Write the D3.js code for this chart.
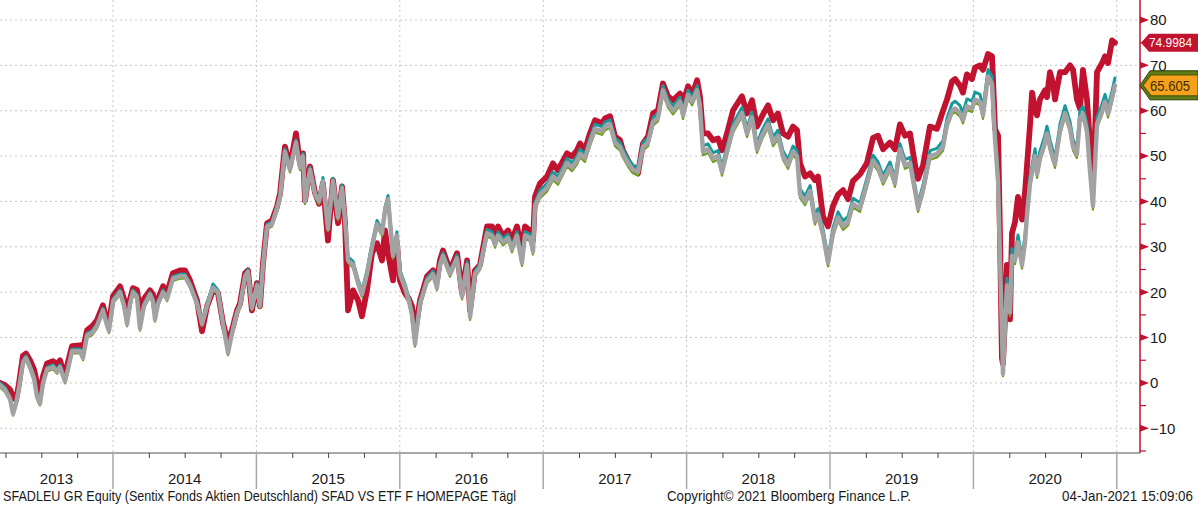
<!DOCTYPE html>
<html><head><meta charset="utf-8">
<script src="https://cdn.jsdelivr.net/npm/d3@7"></script>
<style>body{margin:0;background:#fff;}svg{display:block;}</style>
</head><body>
<svg id="c" width="1198" height="505"></svg>
<script>
// time in decimal years
const dates = [
2013.212,2013.247,2013.282,2013.303,2013.324,2013.345,2013.372,2013.393,2013.421,2013.449,2013.470,2013.491,2013.512,2013.540,2013.582,2013.610,2013.630,2013.665,2013.686,2013.714,2013.770,2013.791,2013.819,2013.854,2013.888,2013.930,2013.951,2013.972,
2014.000,2014.049,2014.077,2014.098,2014.119,2014.139,2014.167,2014.188,2014.216,2014.258,2014.279,2014.293,2014.314,2014.349,2014.377,2014.418,2014.467,2014.502,2014.537,2014.586,2014.621,2014.656,2014.697,2014.732,2014.767,2014.802,2014.837,2014.865,2014.886,2014.921,2014.941,2014.969,
2015.004,2015.025,2015.046,2015.074,2015.109,2015.144,2015.165,2015.199,2015.234,2015.276,2015.304,2015.325,2015.339,2015.374,2015.409,2015.437,2015.464,2015.499,2015.534,2015.569,2015.597,2015.618,2015.639,2015.674,2015.709,2015.736,2015.771,2015.806,2015.841,2015.876,2015.897,2015.918,2015.953,2015.980,
2016.001,2016.036,2016.064,2016.085,2016.106,2016.141,2016.190,2016.232,2016.259,2016.280,2016.301,2016.350,2016.399,2016.434,2016.469,2016.490,2016.524,2016.559,2016.608,2016.643,2016.664,2016.685,2016.720,2016.755,2016.782,2016.817,2016.852,2016.873,2016.908,2016.929,2016.943,2016.978,
2017.027,2017.068,2017.103,2017.166,2017.201,2017.236,2017.257,2017.291,2017.326,2017.361,2017.410,2017.431,2017.466,2017.501,2017.536,2017.556,2017.591,2017.626,2017.661,2017.696,2017.731,2017.766,2017.801,2017.835,2017.870,2017.905,2017.954,2017.975,
2018.010,2018.038,2018.073,2018.093,2018.114,2018.149,2018.184,2018.219,2018.247,2018.282,2018.324,2018.386,2018.421,2018.456,2018.491,2018.526,2018.568,2018.603,2018.637,2018.672,2018.707,2018.742,2018.770,2018.791,2018.826,2018.861,2018.895,2018.916,2018.951,2018.986,
2019.021,2019.056,2019.091,2019.126,2019.160,2019.209,2019.258,2019.300,2019.335,2019.370,2019.418,2019.453,2019.488,2019.523,2019.558,2019.593,2019.614,2019.649,2019.697,2019.746,2019.788,2019.816,2019.851,2019.872,2019.907,2019.927,2019.955,2019.990,
2020.011,2020.046,2020.067,2020.102,2020.130,2020.151,2020.172,2020.185,2020.199,2020.206,2020.220,2020.234,2020.255,2020.269,2020.290,2020.311,2020.339,2020.360,2020.374,2020.395,2020.409,2020.430,2020.444,2020.464,2020.499,2020.513,2020.534,2020.555,2020.569,2020.604,2020.639,2020.674,2020.695,2020.722,2020.743,2020.764,2020.792,2020.813,2020.834,2020.848,2020.862,2020.897,2020.918,2020.939,2020.967,2020.987
];
// SFADLEU GR Equity (red)
const fundRed = [
0.0,-0.5,-1.5,-3.0,-3.8,0.0,6.0,6.5,5.0,3.0,0.0,-2.8,1.5,4.3,4.8,4.0,5.0,1.5,4.5,8.1,8.3,7.5,11.6,12.5,13.8,17.1,14.5,13.2,
19.1,21.3,18.5,14.7,18.5,20.9,20.5,16.0,18.5,20.4,19.5,16.0,18.5,21.3,19.8,24.2,24.8,24.8,22.6,18.2,11.4,16.9,20.4,19.8,13.2,8.8,12.5,16.0,17.5,24.2,24.8,16.0,
22.0,16.9,26.4,35.2,35.8,38.9,41.8,52.1,47.7,55.0,48.4,50.6,40.2,47.7,41.8,39.5,44.0,31.4,44.7,35.2,43.3,35.2,16.0,20.4,18.2,14.7,20.4,28.6,30.8,27.0,33.6,28.6,22.6,30.8,
22.6,19.8,18.5,16.9,11.0,18.2,23.5,24.8,22.5,27.0,29.2,24.8,28.6,19.8,27.0,16.0,24.8,26.0,34.5,34.5,32.3,34.5,32.3,33.6,31.4,34.5,29.2,34.5,33.6,31.4,41.1,44.0,
45.5,48.4,46.9,50.6,49.9,51.3,52.8,51.3,55.0,57.9,57.2,58.3,58.8,54.3,53.5,51.3,49.1,46.9,46.2,52.8,54.3,59.4,60.1,66.0,63.2,62.3,63.8,61.6,
65.4,63.4,66.7,63.2,55.0,55.0,53.5,53.9,51.3,55.0,60.1,63.2,59.4,62.3,56.5,58.8,61.2,57.9,59.4,55.0,54.3,56.5,55.7,48.4,45.5,46.2,44.7,45.5,36.7,34.5,
39.0,41.5,42.5,40.5,44.5,46.0,48.5,54.0,54.5,51.5,53.0,51.5,57.0,54.5,55.0,48.0,45.0,48.0,56.5,56.0,60.0,62.5,66.5,67.0,65.5,64.0,68.0,67.0,
69.5,70.0,69.0,72.5,72.0,56.0,54.5,33.5,5.5,4.2,14.0,26.0,14.0,33.0,35.5,41.0,36.0,42.0,48.0,57.0,64.0,60.0,59.0,62.5,64.5,63.0,68.5,66.0,62.5,68.5,68.5,70.0,69.0,62.5,60.5,69.0,62.5,53.0,46.5,55.0,68.5,70.5,72.0,70.5,75.5,75.0
];
// comparison series (grey)
const etfGray = [
-0.5,-1.5,-3.5,-6.8,-4.5,-1.0,4.5,5.5,3.5,1.0,-3.0,-4.6,0.0,3.0,3.5,2.5,3.5,0.4,3.0,7.0,7.0,5.5,10.5,11.0,12.5,16.0,13.5,11.5,
18.0,20.0,17.0,13.0,17.5,20.0,19.0,12.0,17.0,19.5,18.0,14.0,17.5,20.0,18.5,23.0,23.5,23.5,21.5,17.5,13.0,17.0,21.0,20.0,13.0,6.6,12.0,15.5,17.0,23.5,24.5,16.5,
21.5,17.0,26.0,34.5,35.0,38.5,41.0,51.0,47.0,53.0,47.5,50.0,40.0,47.0,41.5,40.0,44.5,34.0,44.5,36.5,43.0,36.0,27.0,26.0,22.0,19.5,24.0,30.0,35.0,33.0,38.0,40.5,28.0,32.5,
24.0,21.0,18.0,15.0,8.6,17.5,22.5,24.0,21.0,26.0,28.0,24.0,27.5,19.0,26.0,14.5,24.0,25.5,33.0,32.5,30.5,32.5,31.0,32.0,29.5,32.5,26.5,32.5,32.0,29.0,39.0,41.5,
43.0,45.5,44.5,48.5,47.5,49.0,50.5,49.5,53.0,56.0,55.5,56.5,57.0,53.0,52.0,50.5,48.5,47.0,46.5,52.0,53.0,57.5,58.5,64.5,61.5,60.0,62.0,59.0,
63.5,62.0,64.5,61.0,51.0,51.5,49.5,50.0,46.5,51.0,56.0,59.5,55.0,58.5,51.5,54.5,57.0,53.0,54.5,50.0,48.0,51.0,50.0,41.6,40.0,42.3,35.7,37.2,32.8,26.5,
33.0,36.5,34.5,35.5,39.5,38.5,44.0,49.0,47.5,44.5,47.5,44.0,51.5,48.0,48.5,42.3,38.5,42.5,50.0,50.5,52.0,57.0,60.0,60.5,59.5,58.0,61.0,60.5,
62.5,62.0,59.0,67.5,66.0,53.5,44.5,27.5,11.5,2.0,12.0,21.5,15.5,28.0,27.0,31.0,26.0,31.0,37.0,44.0,46.5,50.0,46.0,49.5,53.0,55.0,52.0,49.5,48.2,55.5,59.5,56.0,52.0,50.4,58.4,59.3,55.5,46.7,39.0,48.0,57.0,59.9,62.0,59.3,62.8,65.6
];
// comparison series (teal)
const etfTeal = [
0.0,-1.0,-3.0,-6.3,-4.0,-0.5,5.0,6.0,4.0,1.5,-2.5,-4.1,0.5,3.5,4.0,3.0,4.0,0.9,3.5,7.5,7.5,6.0,11.0,11.5,13.0,16.5,14.0,12.0,
18.5,20.5,17.5,13.5,18.0,20.5,19.5,12.5,17.5,20.0,18.5,14.5,18.0,20.5,19.0,23.5,24.0,24.0,22.0,18.0,13.5,17.5,21.8,20.5,13.5,7.1,12.5,16.0,17.5,24.0,25.0,17.0,
22.0,17.5,26.5,35.0,35.5,39.0,41.5,51.6,47.6,53.6,48.1,50.6,40.6,47.6,42.1,40.6,45.3,34.6,45.1,37.1,43.6,36.6,27.8,26.8,22.8,20.3,24.8,30.8,35.8,33.8,38.8,41.3,28.8,33.3,
24.8,21.8,18.8,15.8,9.2,18.2,23.2,24.7,21.7,26.7,28.7,24.7,28.2,19.7,26.7,15.2,24.7,26.2,33.8,33.3,31.3,33.3,31.8,32.8,30.3,33.3,27.3,33.3,32.8,29.8,39.8,42.5,
44.0,46.5,45.5,49.5,48.5,50.0,51.5,50.5,54.0,57.0,56.5,57.5,58.0,54.0,53.0,51.5,49.5,48.0,47.5,53.0,54.0,58.5,59.5,65.5,62.5,61.0,63.0,60.0,
64.5,63.0,65.5,62.0,52.2,52.7,50.7,51.2,47.7,52.2,57.2,60.7,56.2,59.7,52.7,55.7,58.2,54.2,55.7,51.2,49.2,52.2,51.2,42.8,41.2,43.5,36.9,38.4,34.0,27.7,
34.2,37.7,35.7,36.7,40.7,39.7,45.2,50.2,48.7,45.7,48.7,45.2,52.7,49.2,49.7,43.5,39.7,43.7,51.2,51.7,53.4,58.4,61.6,62.1,61.1,59.6,62.6,62.1,
64.1,63.6,60.6,69.1,67.6,55.1,46.1,29.1,13.1,3.0,13.6,23.1,17.1,29.6,28.6,32.6,27.6,32.6,38.6,45.6,48.1,51.6,47.6,51.1,54.6,56.6,53.6,51.1,49.8,57.1,61.1,57.6,53.6,52.0,60.0,60.9,57.1,48.3,40.6,49.6,58.6,61.5,63.6,60.9,64.4,67.2
];
// comparison series (green)
const etfGreen = [
-1.0,-2.0,-4.0,-7.2,-5.0,-1.5,4.0,5.0,3.0,0.5,-3.5,-5.0,-0.5,2.5,3.0,2.0,3.0,-0.1,2.5,6.5,6.5,5.0,10.0,10.5,12.0,15.5,13.0,11.0,
17.5,19.5,16.5,12.5,17.0,19.5,18.5,11.5,16.5,19.0,17.5,13.5,17.0,19.5,18.0,22.5,23.0,23.0,21.0,17.0,12.5,16.5,20.5,19.5,12.5,6.1,11.5,15.0,16.5,23.0,24.0,16.0,
21.0,16.5,25.5,34.0,34.5,38.0,40.5,50.4,46.4,52.4,46.9,49.4,39.4,46.4,40.9,39.4,44.0,33.4,43.9,35.9,42.4,35.4,26.4,25.4,21.4,18.9,23.4,29.4,34.4,32.4,37.4,39.9,27.4,31.9,
23.4,20.4,17.4,14.4,8.0,16.9,21.9,23.4,20.4,25.4,27.4,23.4,26.9,18.4,25.4,13.9,23.4,24.9,32.3,31.8,29.8,31.8,30.3,31.3,28.8,31.8,25.8,31.8,31.3,28.3,38.3,40.7,
42.2,44.7,43.7,47.7,46.7,48.2,49.7,48.7,52.2,55.2,54.7,55.7,56.2,52.2,51.2,49.7,47.7,46.2,45.7,51.2,52.2,56.7,57.7,63.7,60.7,59.2,61.2,58.2,
62.7,61.2,63.7,60.2,50.2,50.7,48.7,49.2,45.7,50.2,55.2,58.7,54.2,57.7,50.7,53.7,56.2,52.2,53.7,49.2,47.2,50.2,49.2,40.8,39.2,41.5,34.9,36.4,32.0,25.7,
32.2,35.7,33.7,34.7,38.7,37.7,43.2,48.2,46.7,43.7,46.7,43.2,50.7,47.2,47.7,41.5,37.7,41.7,49.2,49.7,51.2,56.2,59.2,59.7,58.7,57.2,60.2,59.7,
61.7,61.2,58.2,66.7,65.2,52.7,43.7,26.7,10.7,1.5,11.2,20.7,14.7,27.2,26.2,30.2,25.2,30.2,36.2,43.2,45.7,49.2,45.2,48.7,52.2,54.2,51.2,48.7,47.4,54.7,58.7,55.2,51.2,49.6,57.6,58.5,54.7,45.9,38.2,47.2,56.2,59.1,61.2,58.5,62.0,64.8
];
const yearLabels = ["2013","2014","2015","2016","2017","2018","2019","2020"];
const yearBounds = [2013,2014,2015,2016,2017,2018,2019,2020,2021];
const yTicks = [-10,0,10,20,30,40,50,60,70,80];
const yMinorTicks = [-15,-5,5,15,25,35,45,55,65,75];
const lastFundLabel = "74.9984";
const lastFundValue = 74.9984;
const lastEtfLabel = "65.605";
const lastEtfValue = 65.605;
const footerLeft = "SFADLEU GR Equity (Sentix Fonds Aktien Deutschland) SFAD VS ETF F HOMEPAGE  Tägl";
const footerMid = "Copyright\u00A9 2021 Bloomberg Finance L.P.";
const footerRight = "04-Jan-2021 15:09:06";

const svg = d3.select("#c");
const PL = 0, PR = 1140, PT = 0, PB = 453;
const x = d3.scaleLinear().domain([2014, 2021]).range([113, 1116.8]);
const y = d3.scaleLinear().domain([-10, 80]).range([428.3, 20]);
const FONT = "'Liberation Sans Narrow','Liberation Sans',Arial,sans-serif";
const RED = "#c1122f";

// grid
const grid = svg.append("g");
grid.selectAll("line.h").data(yTicks).join("line")
  .attr("x1", PL).attr("x2", PR).attr("y1", d => y(d)).attr("y2", d => y(d))
  .attr("stroke", "#c6c6c6").attr("stroke-width", 1).attr("stroke-dasharray", "2,3");
grid.selectAll("line.v").data(yearBounds.slice(1)).join("line")
  .attr("x1", d => x(d)).attr("x2", d => x(d)).attr("y1", PT).attr("y2", PB)
  .attr("stroke", "#c6c6c6").attr("stroke-width", 1).attr("stroke-dasharray", "2,3");

// lines
svg.append("clipPath").attr("id", "clip").append("rect")
  .attr("x", PL).attr("y", PT).attr("width", PR - PL).attr("height", PB - PT);
const gLines = svg.append("g").attr("clip-path", "url(#clip)");
const mk = vals => dates.map((t, i) => [t, vals[i]]);
const line = d3.line().x(d => x(d[0])).y(d => y(d[1])).curve(d3.curveLinear);
const series = [
  {vals: fundRed, color: RED, w: 5.8},
  {vals: etfTeal, color: "#15999b", w: 3},
  {vals: etfGreen, color: "#6f9e1e", w: 2.2},
  {vals: etfGray, color: "#a2a2a2", w: 4.4}
];
series.forEach(s => {
  gLines.append("path").datum(mk(s.vals)).attr("d", line)
    .attr("fill", "none").attr("stroke", s.color).attr("stroke-width", s.w)
    .attr("stroke-linejoin", "round").attr("stroke-linecap", "round");
});

// bottom axis
svg.append("line").attr("x1", PL).attr("x2", PR).attr("y1", PB).attr("y2", PB)
  .attr("stroke", "#555").attr("stroke-width", 1.2);
const quarters = [];
yearBounds.slice(0, -1).forEach(yr => [0.25, 0.5, 0.75].forEach(q => quarters.push(yr + q)));
const xAxis = svg.append("g").attr("transform", `translate(0,${PB})`)
  .call(d3.axisBottom(x).tickValues(quarters).tickSize(5).tickFormat(""));
xAxis.select(".domain").remove();
xAxis.selectAll(".tick line").attr("stroke", "#444");
svg.append("g").selectAll("line").data(yearBounds.slice(1)).join("line")
  .attr("x1", d => x(d)).attr("x2", d => x(d)).attr("y1", PB).attr("y2", 489)
  .attr("stroke", "#a8a8a8").attr("stroke-width", 1.5);
svg.append("g").selectAll("text").data(yearLabels).join("text")
  .attr("x", (d, i) => (Math.max(PL, x(yearBounds[i])) + Math.min(x(2021), x(yearBounds[i + 1]))) / 2)
  .attr("y", 484).attr("text-anchor", "middle")
  .attr("font-family", FONT).attr("font-size", 15).attr("fill", "#1a1a1a")
  .text(d => d);

// right axis
svg.append("line").attr("x1", PR).attr("x2", PR).attr("y1", 0).attr("y2", PB)
  .attr("stroke", RED).attr("stroke-width", 1.5);
svg.append("g").selectAll("line").data(yMinorTicks).join("line")
  .attr("x1", PR).attr("x2", PR + 6).attr("y1", d => y(d)).attr("y2", d => y(d))
  .attr("stroke", RED).attr("stroke-width", 1.2);
svg.append("g").selectAll("path").data(yTicks).join("path")
  .attr("d", d => `M${PR},${y(d) - 3.5}L${PR + 9},${y(d)}L${PR},${y(d) + 3.5}Z`)
  .attr("fill", RED);
const yAxis = svg.append("g").attr("transform", `translate(${PR},0)`)
  .call(d3.axisRight(y).tickValues(yTicks).tickSize(0).tickPadding(10).tickFormat(d3.format("d")));
yAxis.select(".domain").remove();
yAxis.selectAll("text").attr("font-family", FONT).attr("font-size", 15).attr("fill", "#1a1a1a");

// value tags
const yr = y(lastFundValue);
svg.append("path")
  .attr("d", `M${PR + 1},${yr}L${PR + 9},${yr - 9}L1198,${yr - 9}L1198,${yr + 9}L${PR + 9},${yr + 9}Z`)
  .attr("fill", RED);
svg.append("text").attr("x", PR + 9).attr("y", yr + 4.5)
  .attr("font-family", FONT).attr("font-size", 12.5).attr("fill", "#fff")
  .attr("textLength", 43).attr("lengthAdjust", "spacingAndGlyphs").text(lastFundLabel);
const yo = y(lastEtfValue);
svg.append("path")
  .attr("d", `M${PR},${yo}L${PR + 10},${yo - 14.5}L1198,${yo - 14.5}L1198,${yo + 14.5}L${PR + 10},${yo + 14.5}Z`)
  .attr("fill", "#5e7d14").attr("stroke", "#2f3d06").attr("stroke-width", 1);
svg.append("path")
  .attr("d", `M${PR + 3},${yo}L${PR + 11},${yo - 10.5}L1198,${yo - 10.5}L1198,${yo + 10.5}L${PR + 11},${yo + 10.5}Z`)
  .attr("fill", "#f6a11c").attr("stroke", "#4e5a0e").attr("stroke-width", 1.2);
svg.append("text").attr("x", PR + 10).attr("y", yo + 5.5)
  .attr("font-family", FONT).attr("font-size", 15).attr("fill", "#3b2b00")
  .attr("textLength", 40).attr("lengthAdjust", "spacingAndGlyphs").text(lastEtfLabel);

// footer
const foot = [
  {t: footerLeft, x: 3, len: 513},
  {t: footerMid, x: 667, len: 244},
  {t: footerRight, x: 1062, len: 131}
];
svg.append("g").selectAll("text").data(foot).join("text")
  .attr("x", d => d.x).attr("y", 501)
  .attr("font-family", FONT).attr("font-size", 14).attr("fill", "#1a1a1a")
  .attr("textLength", d => d.len).attr("lengthAdjust", "spacingAndGlyphs")
  .text(d => d.t);
</script>
</body></html>
